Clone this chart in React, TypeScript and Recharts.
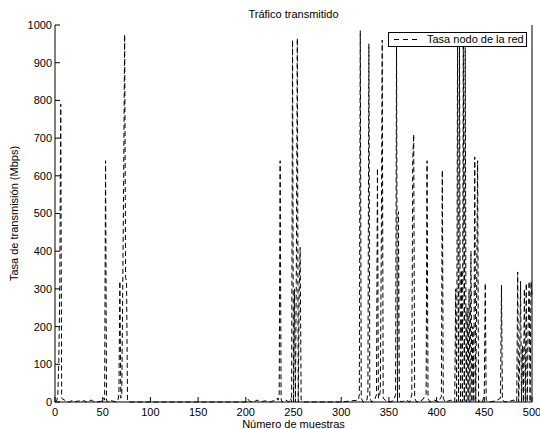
import { LineChart, Line, XAxis, YAxis } from 'recharts';

// Sample index / rate pairs (baseline stretches are flat near 0)
const samples = [
  0, 2, 3, 4, 5, 6, 7, 8, 10, 12, 15, 18, 20, 25, 28, 30, 33, 38, 40, 45,
  50, 51, 52, 53, 54, 55, 58, 60, 64, 66, 67, 68, 69, 70, 71, 72, 73, 74, 75, 76, 78,
  120, 200, 202, 204, 208, 212, 215, 220, 225, 230, 233, 234, 235, 236, 237, 238, 242, 245,
  247, 248, 249, 250, 251, 252, 253, 254, 255, 256, 257, 258, 260,
  300, 318, 319, 320, 321, 323, 327, 328, 329, 330, 332, 335, 337, 338, 339, 340, 341, 342, 343, 344, 346, 350,
  355, 357, 358, 359, 360, 361, 363, 368, 372, 374, 375, 376, 377, 379, 385, 389, 390, 391, 393,
  398, 402, 405, 406, 407, 409, 415, 419, 420, 421, 422, 423, 424, 425, 426, 427, 428, 429, 430,
  431, 432, 433, 434, 435, 436, 437, 438, 439, 440, 441, 442, 443, 444, 446, 448, 450, 451, 452, 455,
  462, 467, 468, 469, 472, 478, 481, 483, 484, 485, 486, 487, 488, 489, 490, 491, 492, 493,
  494, 495, 496, 497, 498, 499, 500,
];

const rates = [
  0, 5, 20, 110, 300, 790, 10, 8, 5, 2, 0, 4, 0, 3, 0, 4, 0, 5, 2, 0,
  3, 10, 5, 640, 5, 0, 5, 3, 0, 5, 20, 320, 10, 20, 300, 600, 975, 330, 320, 5, 0,
  0, 0, 8, 2, 0, 5, 0, 3, 0, 4, 10, 5, 20, 640, 8, 0, 5, 0,
  10, 0, 960, 0, 300, 0, 350, 965, 0, 300, 410, 5, 0,
  0, 5, 20, 985, 10, 0, 5, 30, 950, 10, 0, 5, 20, 620, 10, 15, 30, 400, 960, 10, 5, 0,
  3, 20, 955, 0, 505, 5, 0, 5, 0, 20, 645, 710, 10, 0, 5, 20, 640, 10, 0,
  5, 0, 15, 615, 10, 0, 5, 0, 300, 0, 970, 0, 950, 0, 350, 0, 960, 0, 940,
  0, 250, 0, 300, 0, 400, 0, 200, 0, 650, 0, 300, 640, 0, 5, 0, 20, 315, 5, 0,
  3, 10, 310, 5, 0, 3, 5, 0, 0, 345, 0, 100, 320, 0, 150, 0, 300, 0,
  315, 0, 200, 320, 0, 320, 280,
];

const xTicks = [0, 50, 100, 150, 200, 250, 300, 350, 400, 450, 500];
const yTicks = [0, 100, 200, 300, 400, 500, 600, 700, 800, 900, 1000];

const chartData = samples.map((s, i) => ({ sample: s, rate: rates[i] }));

const font = "'Liberation Sans', Arial, Helvetica, sans-serif";
const tickStyle = { fontSize: 11, fill: '#000', fontFamily: font };

export default function App() {
  return (
    <div style={{ position: 'absolute', left: 0, top: 0, width: 540, height: 429, background: '#fff', fontFamily: font }}>
      <LineChart
        width={540}
        height={429}
        data={chartData}
        margin={{ top: 25, right: 0, left: 0, bottom: 0 }}
      >
        <XAxis
          dataKey="sample"
          type="number"
          domain={[0, 500]}
          ticks={xTicks}
          interval={0}
          height={27}
          tickSize={-5}
          tickMargin={11}
          tick={tickStyle}
          axisLine={{ stroke: '#000', strokeWidth: 1 }}
          tickLine={{ stroke: '#000' }}
          label={{
            value: 'Número de muestras',
            position: 'insideBottom',
            offset: 1,
            style: { fontSize: 11, fill: '#000', fontFamily: font },
          }}
        />
        <XAxis
          xAxisId="top"
          dataKey="sample"
          type="number"
          orientation="top"
          domain={[0, 500]}
          ticks={xTicks}
          interval={0}
          height={0}
          tickSize={-5}
          tick={false}
          axisLine={{ stroke: '#000', strokeWidth: 1 }}
          tickLine={{ stroke: '#000' }}
        />
        <YAxis
          type="number"
          domain={[0, 1000]}
          ticks={yTicks}
          interval={0}
          width={55}
          tickSize={-5}
          tickMargin={8}
          tick={tickStyle}
          axisLine={{ stroke: '#000', strokeWidth: 1 }}
          tickLine={{ stroke: '#000' }}
          label={{
            value: 'Tasa de transmisión (Mbps)',
            angle: -90,
            position: 'insideLeft',
            offset: 14,
            style: { fontSize: 11, fill: '#000', fontFamily: font, textAnchor: 'middle' },
          }}
        />
        <YAxis
          yAxisId="right"
          orientation="right"
          type="number"
          domain={[0, 1000]}
          ticks={yTicks}
          interval={0}
          width={8}
          tickSize={-5}
          tick={false}
          axisLine={{ stroke: '#000', strokeWidth: 1 }}
          tickLine={{ stroke: '#000' }}
        />
        <Line
          dataKey="rate"
          type="linear"
          stroke="#000"
          strokeWidth={1}
          strokeDasharray="5 3"
          dot={false}
          isAnimationActive={false}
        />
      </LineChart>

      {/* title */}
      <div
        style={{
          position: 'absolute',
          left: 55,
          width: 477,
          top: 8,
          textAlign: 'center',
          fontSize: 11,
          lineHeight: '13px',
        }}
      >
        Tráfico transmitido
      </div>

      {/* legend box, top right inside the axes */}
      <div
        style={{
          position: 'absolute',
          left: 388,
          top: 32,
          width: 137,
          height: 13,
          border: '1px solid #000',
          background: '#fff',
          display: 'flex',
          alignItems: 'center',
          fontSize: 11,
          lineHeight: '13px',
        }}
      >
        <svg width={32} height={13} style={{ flex: 'none' }}>
          <line x1={5} y1={6.5} x2={30} y2={6.5} stroke="#000" strokeWidth={1} strokeDasharray="5 4" />
        </svg>
        <span style={{ marginLeft: 6, whiteSpace: 'nowrap' }}>Tasa nodo de la red</span>
      </div>
    </div>
  );
}
